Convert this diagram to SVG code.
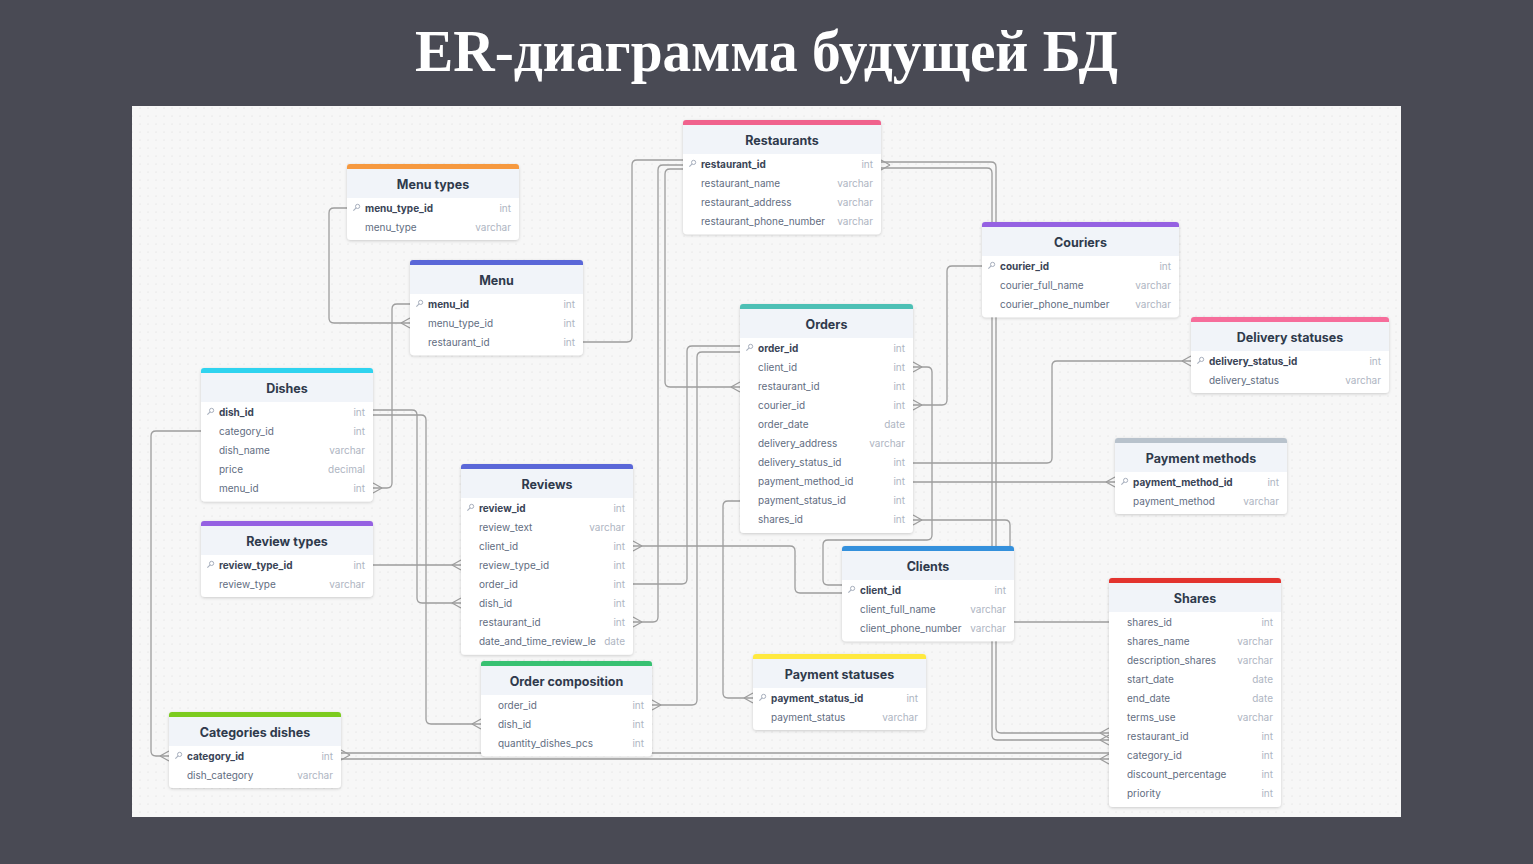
<svg xmlns="http://www.w3.org/2000/svg" width="1533" height="864" viewBox="0 0 1533 864">
<defs>
<pattern id="dots" width="8" height="8" patternUnits="userSpaceOnUse"><circle cx="4" cy="4" r="0.6" fill="#d9d9d9"/></pattern>
<filter id="sh" x="-10%" y="-10%" width="120%" height="130%"><feDropShadow dx="0" dy="1" stdDeviation="1.5" flood-color="#000" flood-opacity="0.18"/></filter>
<symbol id="key" overflow="visible"><circle cx="1.6" cy="-1.6" r="2.1" fill="none" stroke="#a7afbd" stroke-width="1"/><path d="M0.1,-0.1 L-2.6,2.6" stroke="#a7afbd" stroke-width="1.1"/></symbol>
</defs>
<style>
.bg{fill:#494a54}
.title{font-family:"Liberation Serif",serif;font-weight:700;font-size:60px;fill:#ffffff}
.body{fill:#ffffff;filter:url(#sh)}
.hd{fill:#f1f4f9}
.tt{font-family:Inter,"Liberation Sans",sans-serif;font-weight:700;font-size:12.5px;fill:#2f3a4c;text-anchor:middle}
.fn{font-family:Inter,"Liberation Sans",sans-serif;font-size:10px;fill:#626d81}
.pk{font-family:Inter,"Liberation Sans",sans-serif;font-size:10px;font-weight:700;fill:#3a4456}
.ty{font-family:Inter,"Liberation Sans",sans-serif;font-size:10px;fill:#aeb5c2;text-anchor:end}
.cn path{fill:none;stroke:#9d9d9d;stroke-width:1.3}
</style>
<rect class="bg" x="0" y="0" width="1533" height="864"/>
<text class="title" x="415" y="71" textLength="703" lengthAdjust="spacingAndGlyphs">ER-диаграмма будущей БД</text>
<rect x="132" y="106" width="1269" height="711" fill="#f7f7f7"/>
<rect x="132" y="106" width="1269" height="711" fill="url(#dots)"/>

<g id="connectors" class="cn">
<path d="M347,208 H334 Q329,208 329,213 V318 Q329,323 334,323 H410"/>
<path d="M401,323 L410,318 M401,323 L410,328"/>
<path d="M410,304 H397 Q392,304 392,309 V483 Q392,488 387,488 H373"/>
<path d="M382,488 L373,483 M382,488 L373,493"/>
<path d="M583,342 H627 Q632,342 632,337 V165 Q632,160 637,160 H683"/>
<path d="M683,169 H670 Q665,169 665,174 V382 Q665,387 670,387 H740"/>
<path d="M731,387 L740,382 M731,387 L740,392"/>
<path d="M683,165 H663 Q658,165 658,170 V617 Q658,622 653,622 H633"/>
<path d="M642,622 L633,617 M642,622 L633,627"/>
<path d="M881,162 H991 Q996,162 996,167 V728 Q996,733 1001,733 H1109"/>
<path d="M881,168 H987 Q992,168 992,173 V735 Q992,740 997,740 H1109"/>
<path d="M890,165 L881,160 M890,165 L881,170"/>
<path d="M1100,733 L1109,728 M1100,733 L1109,738"/>
<path d="M1100,740 L1109,735 M1100,740 L1109,745"/>
<path d="M201,431 H156 Q151,431 151,436 V751 Q151,756 156,756 H169"/>
<path d="M160,756 L169,751 M160,756 L169,761"/>
<path d="M341,753 H1109"/>
<path d="M341,759 H1109"/>
<path d="M350,755 L341,750 M350,755 L341,760"/>
<path d="M1100,759 L1109,754 M1100,759 L1109,764"/>
<path d="M373,410 H412 Q417,410 417,415 V598 Q417,603 422,603 H461"/>
<path d="M452,603 L461,598 M452,603 L461,608"/>
<path d="M373,415 H421 Q426,415 426,420 V719 Q426,724 431,724 H481"/>
<path d="M472,724 L481,719 M472,724 L481,729"/>
<path d="M373,565 H461"/>
<path d="M452,565 L461,560 M452,565 L461,570"/>
<path d="M740,346 H692 Q687,346 687,351 V579 Q687,584 682,584 H633"/>
<path d="M740,352 H702 Q697,352 697,357 V700 Q697,705 692,705 H652"/>
<path d="M661,705 L652,700 M661,705 L652,710"/>
<path d="M740,501 H728 Q723,501 723,506 V693 Q723,698 728,698 H753"/>
<path d="M744,698 L753,693 M744,698 L753,703"/>
<path d="M913,367 H927 Q932,367 932,372 V535 Q932,540 927,540 H828 Q823,540 823,545 V580 Q823,585 828,585 H842"/>
<path d="M922,367 L913,362 M922,367 L913,372"/>
<path d="M633,546 H790 Q795,546 795,551 V588 Q795,593 800,593 H842"/>
<path d="M642,546 L633,541 M642,546 L633,551"/>
<path d="M913,405 H942 Q947,405 947,400 V271 Q947,266 952,266 H982"/>
<path d="M922,405 L913,400 M922,405 L913,410"/>
<path d="M913,463 H1047 Q1052,463 1052,458 V366 Q1052,361 1057,361 H1191"/>
<path d="M1182,361 L1191,356 M1182,361 L1191,366"/>
<path d="M913,482 H1115"/>
<path d="M1106,482 L1115,477 M1106,482 L1115,487"/>
<path d="M913,520 H1005 Q1010,520 1010,525 V617 Q1010,622 1015,622 H1109"/>
<path d="M922,520 L913,515 M922,520 L913,525"/>
</g>

<g id="t-restaurants" transform="translate(683,120)">
<rect class="body" width="198" height="114.3" rx="4"/>
<path class="hd" d="M0,34 V4 Q0,0 4,0 H194 Q198,0 198,4 V34 Z"/>
<path fill="#f0628d" d="M0,5 V3 Q0,0 3,0 H195 Q198,0 198,3 V5 Z"/>
<text class="tt" x="99" y="24.5">Restaurants</text>
<use href="#key" x="9" y="44"/><text class="pk" x="18" y="47.5">restaurant_id</text><text class="ty" x="190" y="47.5">int</text>
<text class="fn" x="18" y="66.6">restaurant_name</text><text class="ty" x="190" y="66.6">varchar</text>
<text class="fn" x="18" y="85.7">restaurant_address</text><text class="ty" x="190" y="85.7">varchar</text>
<text class="fn" x="18" y="104.8">restaurant_phone_number</text><text class="ty" x="190" y="104.8">varchar</text>
</g>

<g id="t-menu-types" transform="translate(347,164)">
<rect class="body" width="172" height="76.1" rx="4"/>
<path class="hd" d="M0,34 V4 Q0,0 4,0 H168 Q172,0 172,4 V34 Z"/>
<path fill="#f6993f" d="M0,5 V3 Q0,0 3,0 H169 Q172,0 172,3 V5 Z"/>
<text class="tt" x="86" y="24.5">Menu types</text>
<use href="#key" x="9" y="44"/><text class="pk" x="18" y="47.5">menu_type_id</text><text class="ty" x="164" y="47.5">int</text>
<text class="fn" x="18" y="66.6">menu_type</text><text class="ty" x="164" y="66.6">varchar</text>
</g>

<g id="t-menu" transform="translate(410,260)">
<rect class="body" width="173" height="95.2" rx="4"/>
<path class="hd" d="M0,34 V4 Q0,0 4,0 H169 Q173,0 173,4 V34 Z"/>
<path fill="#5a67d8" d="M0,5 V3 Q0,0 3,0 H170 Q173,0 173,3 V5 Z"/>
<text class="tt" x="86.5" y="24.5">Menu</text>
<use href="#key" x="9" y="44"/><text class="pk" x="18" y="47.5">menu_id</text><text class="ty" x="165" y="47.5">int</text>
<text class="fn" x="18" y="66.6">menu_type_id</text><text class="ty" x="165" y="66.6">int</text>
<text class="fn" x="18" y="85.7">restaurant_id</text><text class="ty" x="165" y="85.7">int</text>
</g>

<g id="t-couriers" transform="translate(982,222)">
<rect class="body" width="197" height="95.2" rx="4"/>
<path class="hd" d="M0,34 V4 Q0,0 4,0 H193 Q197,0 197,4 V34 Z"/>
<path fill="#9561e2" d="M0,5 V3 Q0,0 3,0 H194 Q197,0 197,3 V5 Z"/>
<text class="tt" x="98.5" y="24.5">Couriers</text>
<use href="#key" x="9" y="44"/><text class="pk" x="18" y="47.5">courier_id</text><text class="ty" x="189" y="47.5">int</text>
<text class="fn" x="18" y="66.6">courier_full_name</text><text class="ty" x="189" y="66.6">varchar</text>
<text class="fn" x="18" y="85.7">courier_phone_number</text><text class="ty" x="189" y="85.7">varchar</text>
</g>

<g id="t-delivery-statuses" transform="translate(1191,317)">
<rect class="body" width="198" height="76.1" rx="4"/>
<path class="hd" d="M0,34 V4 Q0,0 4,0 H194 Q198,0 198,4 V34 Z"/>
<path fill="#f66d9b" d="M0,5 V3 Q0,0 3,0 H195 Q198,0 198,3 V5 Z"/>
<text class="tt" x="99" y="24.5">Delivery statuses</text>
<use href="#key" x="9" y="44"/><text class="pk" x="18" y="47.5">delivery_status_id</text><text class="ty" x="190" y="47.5">int</text>
<text class="fn" x="18" y="66.6">delivery_status</text><text class="ty" x="190" y="66.6">varchar</text>
</g>

<g id="t-dishes" transform="translate(201,368)">
<rect class="body" width="172" height="133.4" rx="4"/>
<path class="hd" d="M0,34 V4 Q0,0 4,0 H168 Q172,0 172,4 V34 Z"/>
<path fill="#2fd3ef" d="M0,5 V3 Q0,0 3,0 H169 Q172,0 172,3 V5 Z"/>
<text class="tt" x="86" y="24.5">Dishes</text>
<use href="#key" x="9" y="44"/><text class="pk" x="18" y="47.5">dish_id</text><text class="ty" x="164" y="47.5">int</text>
<text class="fn" x="18" y="66.6">category_id</text><text class="ty" x="164" y="66.6">int</text>
<text class="fn" x="18" y="85.7">dish_name</text><text class="ty" x="164" y="85.7">varchar</text>
<text class="fn" x="18" y="104.8">price</text><text class="ty" x="164" y="104.8">decimal</text>
<text class="fn" x="18" y="123.9">menu_id</text><text class="ty" x="164" y="123.9">int</text>
</g>

<g id="t-review-types" transform="translate(201,521)">
<rect class="body" width="172" height="76.1" rx="4"/>
<path class="hd" d="M0,34 V4 Q0,0 4,0 H168 Q172,0 172,4 V34 Z"/>
<path fill="#9561e2" d="M0,5 V3 Q0,0 3,0 H169 Q172,0 172,3 V5 Z"/>
<text class="tt" x="86" y="24.5">Review types</text>
<use href="#key" x="9" y="44"/><text class="pk" x="18" y="47.5">review_type_id</text><text class="ty" x="164" y="47.5">int</text>
<text class="fn" x="18" y="66.6">review_type</text><text class="ty" x="164" y="66.6">varchar</text>
</g>

<g id="t-reviews" transform="translate(461,464)">
<rect class="body" width="172" height="190.7" rx="4"/>
<path class="hd" d="M0,34 V4 Q0,0 4,0 H168 Q172,0 172,4 V34 Z"/>
<path fill="#5a67d8" d="M0,5 V3 Q0,0 3,0 H169 Q172,0 172,3 V5 Z"/>
<text class="tt" x="86" y="24.5">Reviews</text>
<use href="#key" x="9" y="44"/><text class="pk" x="18" y="47.5">review_id</text><text class="ty" x="164" y="47.5">int</text>
<text class="fn" x="18" y="66.6">review_text</text><text class="ty" x="164" y="66.6">varchar</text>
<text class="fn" x="18" y="85.7">client_id</text><text class="ty" x="164" y="85.7">int</text>
<text class="fn" x="18" y="104.8">review_type_id</text><text class="ty" x="164" y="104.8">int</text>
<text class="fn" x="18" y="123.9">order_id</text><text class="ty" x="164" y="123.9">int</text>
<text class="fn" x="18" y="143">dish_id</text><text class="ty" x="164" y="143">int</text>
<text class="fn" x="18" y="162.1">restaurant_id</text><text class="ty" x="164" y="162.1">int</text>
<text class="fn" x="18" y="181.2">date_and_time_review_le</text><text class="ty" x="164" y="181.2">date</text>
</g>

<g id="t-orders" transform="translate(740,304)">
<rect class="body" width="173" height="228.9" rx="4"/>
<path class="hd" d="M0,34 V4 Q0,0 4,0 H169 Q173,0 173,4 V34 Z"/>
<path fill="#4dc0b5" d="M0,5 V3 Q0,0 3,0 H170 Q173,0 173,3 V5 Z"/>
<text class="tt" x="86.5" y="24.5">Orders</text>
<use href="#key" x="9" y="44"/><text class="pk" x="18" y="47.5">order_id</text><text class="ty" x="165" y="47.5">int</text>
<text class="fn" x="18" y="66.6">client_id</text><text class="ty" x="165" y="66.6">int</text>
<text class="fn" x="18" y="85.7">restaurant_id</text><text class="ty" x="165" y="85.7">int</text>
<text class="fn" x="18" y="104.8">courier_id</text><text class="ty" x="165" y="104.8">int</text>
<text class="fn" x="18" y="123.9">order_date</text><text class="ty" x="165" y="123.9">date</text>
<text class="fn" x="18" y="143">delivery_address</text><text class="ty" x="165" y="143">varchar</text>
<text class="fn" x="18" y="162.1">delivery_status_id</text><text class="ty" x="165" y="162.1">int</text>
<text class="fn" x="18" y="181.2">payment_method_id</text><text class="ty" x="165" y="181.2">int</text>
<text class="fn" x="18" y="200.3">payment_status_id</text><text class="ty" x="165" y="200.3">int</text>
<text class="fn" x="18" y="219.4">shares_id</text><text class="ty" x="165" y="219.4">int</text>
</g>

<g id="t-clients" transform="translate(842,546)">
<rect class="body" width="172" height="95.2" rx="4"/>
<path class="hd" d="M0,34 V4 Q0,0 4,0 H168 Q172,0 172,4 V34 Z"/>
<path fill="#3490dc" d="M0,5 V3 Q0,0 3,0 H169 Q172,0 172,3 V5 Z"/>
<text class="tt" x="86" y="24.5">Clients</text>
<use href="#key" x="9" y="44"/><text class="pk" x="18" y="47.5">client_id</text><text class="ty" x="164" y="47.5">int</text>
<text class="fn" x="18" y="66.6">client_full_name</text><text class="ty" x="164" y="66.6">varchar</text>
<text class="fn" x="18" y="85.7">client_phone_number</text><text class="ty" x="164" y="85.7">varchar</text>
</g>

<g id="t-payment-methods" transform="translate(1115,438)">
<rect class="body" width="172" height="76.1" rx="4"/>
<path class="hd" d="M0,34 V4 Q0,0 4,0 H168 Q172,0 172,4 V34 Z"/>
<path fill="#b8c2cc" d="M0,5 V3 Q0,0 3,0 H169 Q172,0 172,3 V5 Z"/>
<text class="tt" x="86" y="24.5">Payment methods</text>
<use href="#key" x="9" y="44"/><text class="pk" x="18" y="47.5">payment_method_id</text><text class="ty" x="164" y="47.5">int</text>
<text class="fn" x="18" y="66.6">payment_method</text><text class="ty" x="164" y="66.6">varchar</text>
</g>

<g id="t-shares" transform="translate(1109,578)">
<rect class="body" width="172" height="228.9" rx="4"/>
<path class="hd" d="M0,34 V4 Q0,0 4,0 H168 Q172,0 172,4 V34 Z"/>
<path fill="#e3342f" d="M0,5 V3 Q0,0 3,0 H169 Q172,0 172,3 V5 Z"/>
<text class="tt" x="86" y="24.5">Shares</text>
<text class="fn" x="18" y="47.5">shares_id</text><text class="ty" x="164" y="47.5">int</text>
<text class="fn" x="18" y="66.6">shares_name</text><text class="ty" x="164" y="66.6">varchar</text>
<text class="fn" x="18" y="85.7">description_shares</text><text class="ty" x="164" y="85.7">varchar</text>
<text class="fn" x="18" y="104.8">start_date</text><text class="ty" x="164" y="104.8">date</text>
<text class="fn" x="18" y="123.9">end_date</text><text class="ty" x="164" y="123.9">date</text>
<text class="fn" x="18" y="143">terms_use</text><text class="ty" x="164" y="143">varchar</text>
<text class="fn" x="18" y="162.1">restaurant_id</text><text class="ty" x="164" y="162.1">int</text>
<text class="fn" x="18" y="181.2">category_id</text><text class="ty" x="164" y="181.2">int</text>
<text class="fn" x="18" y="200.3">discount_percentage</text><text class="ty" x="164" y="200.3">int</text>
<text class="fn" x="18" y="219.4">priority</text><text class="ty" x="164" y="219.4">int</text>
</g>

<g id="t-categories-dishes" transform="translate(169,712)">
<rect class="body" width="172" height="76.1" rx="4"/>
<path class="hd" d="M0,34 V4 Q0,0 4,0 H168 Q172,0 172,4 V34 Z"/>
<path fill="#7ccb1f" d="M0,5 V3 Q0,0 3,0 H169 Q172,0 172,3 V5 Z"/>
<text class="tt" x="86" y="24.5">Categories dishes</text>
<use href="#key" x="9" y="44"/><text class="pk" x="18" y="47.5">category_id</text><text class="ty" x="164" y="47.5">int</text>
<text class="fn" x="18" y="66.6">dish_category</text><text class="ty" x="164" y="66.6">varchar</text>
</g>

<g id="t-order-composition" transform="translate(481,661)">
<rect class="body" width="171" height="95.2" rx="4"/>
<path class="hd" d="M0,34 V4 Q0,0 4,0 H167 Q171,0 171,4 V34 Z"/>
<path fill="#38c172" d="M0,5 V3 Q0,0 3,0 H168 Q171,0 171,3 V5 Z"/>
<text class="tt" x="85.5" y="24.5">Order composition</text>
<text class="fn" x="17" y="47.5">order_id</text><text class="ty" x="163" y="47.5">int</text>
<text class="fn" x="17" y="66.6">dish_id</text><text class="ty" x="163" y="66.6">int</text>
<text class="fn" x="17" y="85.7">quantity_dishes_pcs</text><text class="ty" x="163" y="85.7">int</text>
</g>

<g id="t-payment-statuses" transform="translate(753,654)">
<rect class="body" width="173" height="76.1" rx="4"/>
<path class="hd" d="M0,34 V4 Q0,0 4,0 H169 Q173,0 173,4 V34 Z"/>
<path fill="#ffe93f" d="M0,5 V3 Q0,0 3,0 H170 Q173,0 173,3 V5 Z"/>
<text class="tt" x="86.5" y="24.5">Payment statuses</text>
<use href="#key" x="9" y="44"/><text class="pk" x="18" y="47.5">payment_status_id</text><text class="ty" x="165" y="47.5">int</text>
<text class="fn" x="18" y="66.6">payment_status</text><text class="ty" x="165" y="66.6">varchar</text>
</g>
</svg>
